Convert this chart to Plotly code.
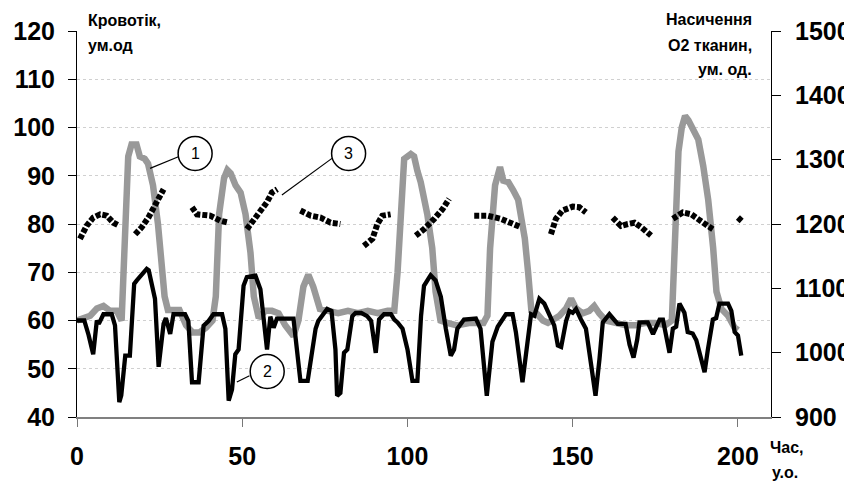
import plotly.graph_objects as go

# ---- data ----
flow_gray_x = [0, 2, 4, 6, 8, 10, 12, 13.5, 14.5, 15.5, 16.5, 18, 19, 20.5, 21.5, 23, 24.5, 25.5, 26.5, 27.5,
               31, 33, 35, 37, 39, 41, 42, 43, 44.5, 45.5, 46.5, 48, 49.5, 51, 52.5, 53.5, 55, 57, 59, 61,
               63, 65.5, 67, 68.5, 70, 71.5, 73.5, 76, 79, 82, 85, 88, 91, 94, 96, 97, 98, 99, 101, 102,
               103, 104, 106, 107.5, 108.5, 110, 112, 115, 119, 123, 124.2, 125, 126.5, 128, 129, 130.5,
               132, 133.5, 134.5, 135.5, 136.5, 137.5, 139, 141, 142.5, 144, 146, 148, 149.5, 151, 153,
               155, 156.5, 158, 160, 163, 166, 169, 172, 175, 178, 180, 181, 182, 183, 184, 185, 186.5,
               188, 189.5, 191, 192.5, 193.5, 195, 197, 199, 200]
flow_gray_y = [60, 60.5, 61, 62.5, 63, 62, 62, 60, 78, 94, 96.5, 96.5, 94, 93.5, 92.5, 88, 80, 73, 65, 62.2,
               62.2, 59, 57.5, 57.5, 58.5, 60, 65, 82, 89.5, 91.2, 90.5, 88, 86.5, 82, 74, 65, 60.5, 62, 62, 61.5,
               59, 56.8, 60, 67, 69.5, 67, 62.4, 62, 61.5, 62, 61.5, 62, 61.5, 62, 62, 70, 85, 93.5, 94.5, 94,
               91, 88.7, 82, 75, 66, 60, 59.5, 59, 59.5, 59.5, 61, 75, 88, 91.8, 89, 88.7,
               87, 85, 81, 77, 70, 62, 61.5, 60, 59.5, 60, 61, 62.5, 64.5, 62.5, 61.5,
               62, 63, 61.5, 60, 59.5, 59, 59, 59.5, 59.5, 59, 60, 75, 95, 100, 102.4, 101.5, 99.3,
               97.5, 92, 85, 75, 66, 62.4, 61, 58.5, 58]

flow_black_x = [0, 2.2, 3.5, 4.9, 6, 6.6, 8, 10.5, 11.5, 12.8, 13.4, 14.6, 16, 17.3, 18.1, 21.1, 21.7, 23.6,
                24.7, 26.2, 26.9, 28.2, 29.2, 32.7, 33.7, 34.8, 36.8, 38.3, 39.8, 41.3, 43.9, 44.9, 45.9,
                46.9, 47.9, 48.9, 50.4, 51.4, 54, 55.5, 57.5, 58.5, 59.5, 60.5, 65.5, 67.6, 69.8, 72.2, 73,
                75.7, 77, 78.2, 78.7, 79.7, 80.8, 81.8, 83.3, 84.3, 86, 87.8, 89, 90.4, 91.4, 92.9, 95, 96,
                97, 98.5, 100, 101.5, 103, 104.1, 105, 107, 108.5, 110.1, 111.6, 113.1, 114.1, 115.1, 117.1,
                120.7, 122.1, 124, 125.7, 127.3, 129.8, 131.8, 132.8, 134.8, 135.8, 137.4, 138.4, 139.9,
                141.4, 142.9, 144.4, 145.5, 146.5, 148, 149, 150, 151, 152.5, 154, 155.6, 156.9, 158.1,
                159.1, 161.1, 162.6, 163.6, 166, 167.2, 168.4, 169.5, 170.2, 172.7, 174.3, 175.3, 176.3,
                177.3, 178.5, 179.3, 180.3, 181.3, 182.3, 183.8, 184.8, 186.3, 187.4, 188.9, 189.9, 190.9,
                192.4, 193.4, 194.4, 197, 198, 199, 200, 201]
flow_black_y = [60, 60, 57, 53, 60, 59.3, 61.3, 61.3, 59, 43.1, 44.5, 52.7, 52.7, 67.6, 68.3, 70.7, 70.4, 64.5,
                50.4, 59.3, 60.5, 57.2, 61.3, 61.3, 59.9, 47.2, 47.2, 58.9, 59.9, 61.3, 61.3, 58.3, 43.4,
                45.7, 53, 54, 67.2, 69, 69.3, 66.5, 54, 60.8, 58.5, 60.4, 60.4, 47.5, 47.5, 58.3, 59.9,
                62.4, 62, 54, 44.4, 45, 53.3, 54, 60.9, 61.6, 61.6, 60.9, 59.9, 53.3, 60.2, 61.3, 61.3, 60.2,
                59.6, 58.3, 54, 47.5, 47.5, 60.9, 67.2, 69.4, 68.3, 64.9, 58.3, 52.7, 54, 58.3, 60.2,
                60.4, 58.3, 44.4, 55.6, 58.7, 61.3, 61.3, 57.6, 47.2, 52.7, 61.3, 61, 64.5,
                63.5, 61.3, 59, 54.8, 54.5, 59.9, 62, 61.6, 62.4, 60.2, 58.3, 50.7, 44.4, 52,
                59.6, 61.3, 60.2, 59.3, 59.3, 55, 52.3, 56, 59.6, 59.6, 57.2, 59, 60.2,
                60.2, 56, 53.3, 58.3, 58.7, 63.5, 61.6, 57.6, 57.3, 55.9, 51.4, 49.3, 54,
                60.2, 60.5, 63.5, 63.5, 62, 57.6, 56.9, 52.7]

o2_x = [0.9, 2.9, 4.9, 7, 9, 11, 12.5, None,
        17.6, 19.6, 21.6, 23.6, 25.7, 26.2, None,
        34.8, 36.3, 40.3, 43.4, 45.9, None,
        51.4, 54.5, 57.5, 59, 60.6, None,
        67.6, 70.7, 73.7, 76.7, 79.7, None,
        86.8, 89.4, 90.9, 92.4, 94.9, None,
        102.5, 105, 108.1, 110.6, 112.6, None,
        120.2, 124.2, 128.3, 131.3, 134.3, None,
        143.4, 144.9, 146.9, 150, 152, 154, None,
        162.1, 164.6, 166.7, 168.7, 170.7, 173.7, None,
        180.3, 183.3, 185.9, 188.4, 190.9, 192.4, None,
        200, 201.5]
o2_y = [1177, 1197, 1210, 1215, 1213, 1202, 1198, None,
        1184, 1195, 1210, 1228, 1246, 1254, None,
        1226, 1215, 1213, 1205, 1202, None,
        1192, 1213, 1234, 1249, 1254, None,
        1221, 1213, 1210, 1202, 1200, None,
        1166, 1177, 1200, 1213, 1215, None,
        1182, 1192, 1208, 1223, 1239, None,
        1213, 1213, 1208, 1202, 1195, None,
        1184, 1208, 1221, 1227, 1226, 1218, None,
        1210, 1197, 1200, 1202, 1195, 1182, None,
        1208, 1218, 1215, 1205, 1197, 1192, None,
        1210, 1203]

x_ticks = [0, 50, 100, 150, 200]
left_ticks = [40, 50, 60, 70, 80, 90, 100, 110, 120]
right_ticks = [900, 1000, 1100, 1200, 1300, 1400, 1500]

# callouts: (label, x, y, leader_x0, leader_y0, leader_x1, leader_y1)
callouts = [
    ("1", 35.74, 94.63, 30.68, 93.93, 22.11, 91.53),
    ("2", 57.55, 49.44, 52.19, 48.55, 48.37, 47.24),
    ("3", 82.18, 94.63, 77.15, 93.60, 62.0, 86.0),
]

FONT = "Liberation Sans, Arial, sans-serif"
OFF = 8  # page body margin in the browser
W, H = 852 - OFF, 484 - OFF
ML, MR, MT, MB = 77 - OFF, 81, 31 - OFF, 67
PW, PH = W - ML - MR, H - MT - MB


def px2paper(px, py):
    # px, py are page pixels in the 852x484 window
    fx, fy = px - OFF, py - OFF
    return (fx - ML) / PW, (H - MB - fy) / PH


fig = go.Figure()
fig.add_trace(go.Scatter(x=flow_gray_x, y=flow_gray_y, mode="lines",
                         line=dict(color="#999999", width=6.5), name="1", showlegend=False))
fig.add_trace(go.Scatter(x=flow_black_x, y=flow_black_y, mode="lines",
                         line=dict(color="#000000", width=4.3), name="2", showlegend=False))
fig.add_trace(go.Scatter(x=o2_x, y=o2_y, mode="lines", yaxis="y2", connectgaps=False,
                         line=dict(color="#000000", width=6, dash="5px,2px"), name="3",
                         showlegend=False))

tickfont = dict(family=FONT, size=25, color="#000000", weight="bold")

shapes = []
annotations = []
for lab, cx, cy, lx0, ly0, lx1, ly1 in callouts:
    shapes.append(dict(type="line", xref="x", yref="y", x0=lx0, y0=ly0, x1=lx1, y1=ly1,
                       line=dict(color="#000000", width=1.2)))
    shapes.append(dict(type="circle", xref="x", yref="y", xsizemode="pixel", ysizemode="pixel",
                       xanchor=cx, yanchor=cy, x0=-17, x1=17, y0=-17, y1=17,
                       fillcolor="#ffffff", line=dict(color="#000000", width=1.5)))
    annotations.append(dict(x=cx, y=cy, xref="x", yref="y", text=lab, showarrow=False,
                            font=dict(family=FONT, size=16, color="#000000"),
                            xanchor="center", yanchor="middle"))

title_font = dict(family=FONT, size=16, color="#000000", weight="bold")


def add_text(text, px, py, xanchor):
    xp, yp = px2paper(px, py)
    annotations.append(dict(x=xp, y=yp, xref="paper", yref="paper", text=text, showarrow=False,
                            font=title_font, xanchor=xanchor, yanchor="middle"))


add_text("Кровотік,", 86, 21, "left")
add_text("ум.од", 86, 45, "left")
add_text("Насичення", 754, 20, "right")
add_text("O2 тканин,", 754, 45, "right")
add_text("ум. од.", 754, 69, "right")
add_text("Час,", 768, 447, "left")
add_text("у.о.", 770, 472, "left")

fig.update_layout(
    width=W, height=H,
    margin=dict(l=ML, r=MR, t=MT, b=MB, pad=0, autoexpand=False),
    paper_bgcolor="#ffffff", plot_bgcolor="#ffffff",
    showlegend=False,
    xaxis=dict(range=[0, 210], tickvals=x_ticks, ticktext=[str(v) for v in x_ticks],
               ticks="outside", ticklen=8, tickcolor="#777777", tickwidth=1,
               showline=True, linecolor="#808080", linewidth=2, automargin=False,
               showgrid=False, zeroline=False, tickfont=tickfont, ticklabelstandoff=8),
    yaxis=dict(range=[40, 120], tickvals=left_ticks, ticktext=[str(v) for v in left_ticks],
               ticks="outside", ticklen=8, tickcolor="#000000", tickwidth=1,
               showline=True, linecolor="#000000", linewidth=1, automargin=False,
               showgrid=True, gridcolor="#d0d0d0", griddash="dot", gridwidth=1,
               zeroline=False, tickfont=tickfont, ticklabelstandoff=8),
    yaxis2=dict(range=[900, 1500], tickvals=right_ticks, ticktext=[str(v) for v in right_ticks],
                overlaying="y", side="right", anchor="x", automargin=False,
                ticks="outside", ticklen=9, tickcolor="#000000", tickwidth=1,
                showline=True, linecolor="#000000", linewidth=1,
                showgrid=False, zeroline=False, tickfont=tickfont, ticklabelstandoff=9),
    yaxis3=dict(range=[900, 1500], tickvals=right_ticks, overlaying="y", side="right", anchor="x",
                ticks="inside", ticklen=9, tickcolor="#000000", tickwidth=1, automargin=False,
                showticklabels=False, showline=False, showgrid=False, zeroline=False),
    shapes=shapes,
    annotations=annotations,
)

fig.write_html("out.html")
